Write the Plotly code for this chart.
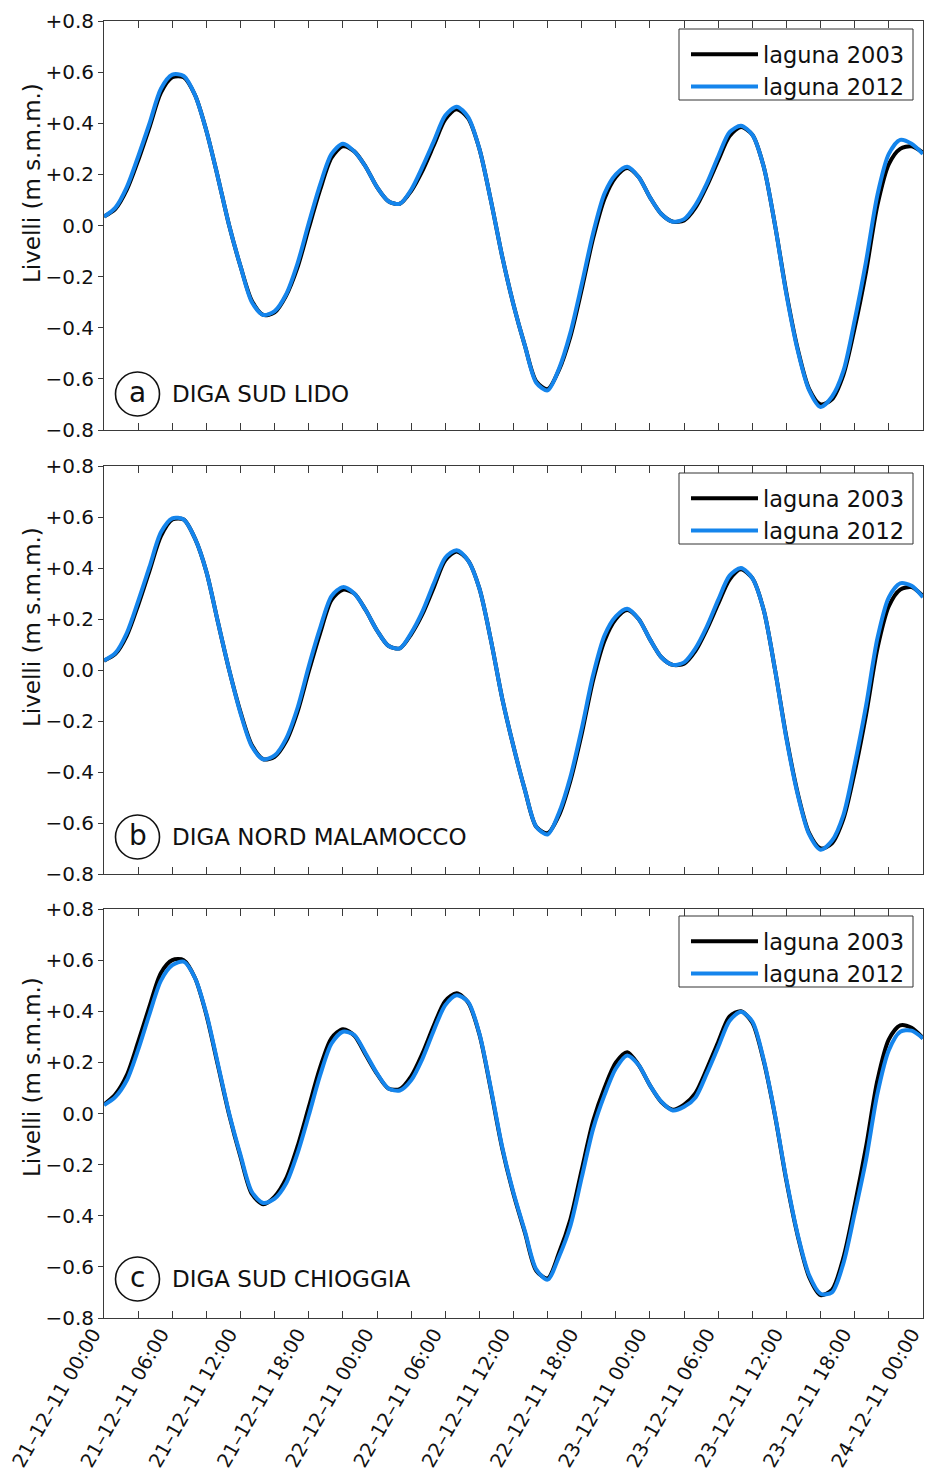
import pandas as pd
import plotly.graph_objects as go

# ---------------- data (hourly, 21-12-2011 00:00 -> 24-12-2011 00:00) ----------------
start_time = "2011-12-21 00:00"
hours = list(range(73))

lido_2003 = [0.035, 0.065, 0.14, 0.255, 0.385, 0.52, 0.58, 0.58, 0.51, 0.37, 0.19, 0.00,
             -0.16, -0.295, -0.35, -0.34, -0.275, -0.165, -0.01, 0.14, 0.265, 0.31, 0.29, 0.23,
             0.15, 0.095, 0.085, 0.135, 0.215, 0.315, 0.415, 0.455, 0.42, 0.30, 0.10, -0.12,
             -0.31, -0.47, -0.61, -0.64, -0.565, -0.435, -0.25, -0.05, 0.105, 0.19, 0.225, 0.19,
             0.11, 0.045, 0.015, 0.02, 0.07, 0.155, 0.255, 0.35, 0.385, 0.355, 0.23, 0.0,
             -0.265, -0.485, -0.64, -0.70, -0.68, -0.585, -0.40, -0.18, 0.08, 0.24, 0.30, 0.31,
             0.285]
lido_2012 = [0.035, 0.07, 0.15, 0.27, 0.40, 0.535, 0.59, 0.585, 0.51, 0.37, 0.19, 0.00,
             -0.16, -0.30, -0.35, -0.335, -0.27, -0.15, 0.01, 0.16, 0.28, 0.32, 0.29, 0.23,
             0.15, 0.095, 0.085, 0.14, 0.23, 0.33, 0.43, 0.465, 0.425, 0.30, 0.10, -0.12,
             -0.31, -0.47, -0.615, -0.645, -0.56, -0.42, -0.23, -0.03, 0.125, 0.20, 0.23, 0.19,
             0.11, 0.045, 0.015, 0.025, 0.08, 0.165, 0.27, 0.365, 0.39, 0.355, 0.23, 0.0,
             -0.27, -0.49, -0.645, -0.71, -0.67, -0.57, -0.37, -0.14, 0.12, 0.28, 0.335, 0.32,
             0.28]

malamocco_2003 = [0.037, 0.063, 0.135, 0.255, 0.39, 0.525, 0.59, 0.59, 0.515, 0.385, 0.19, 0.0,
                  -0.165, -0.295, -0.35, -0.34, -0.28, -0.165, -0.005, 0.145, 0.275, 0.315, 0.30, 0.235,
                  0.155, 0.095, 0.085, 0.14, 0.22, 0.325, 0.43, 0.465, 0.43, 0.32, 0.12, -0.11,
                  -0.30, -0.47, -0.615, -0.64, -0.57, -0.435, -0.25, -0.04, 0.115, 0.20, 0.235, 0.20,
                  0.12, 0.05, 0.02, 0.025, 0.075, 0.16, 0.26, 0.355, 0.395, 0.36, 0.235, 0.0,
                  -0.265, -0.485, -0.64, -0.70, -0.68, -0.585, -0.40, -0.175, 0.085, 0.25, 0.315, 0.325,
                  0.29]
malamocco_2012 = [0.037, 0.067, 0.145, 0.27, 0.405, 0.54, 0.595, 0.59, 0.515, 0.385, 0.19, 0.0,
                  -0.17, -0.30, -0.35, -0.335, -0.27, -0.15, 0.015, 0.165, 0.29, 0.325, 0.30, 0.235,
                  0.155, 0.095, 0.085, 0.145, 0.23, 0.34, 0.44, 0.47, 0.43, 0.32, 0.12, -0.11,
                  -0.30, -0.47, -0.615, -0.645, -0.56, -0.42, -0.23, -0.02, 0.135, 0.21, 0.24, 0.20,
                  0.12, 0.05, 0.02, 0.03, 0.085, 0.17, 0.275, 0.37, 0.40, 0.36, 0.235, 0.0,
                  -0.27, -0.49, -0.645, -0.705, -0.67, -0.57, -0.37, -0.14, 0.125, 0.285, 0.34, 0.33,
                  0.285]

chioggia_2003 = [0.035, 0.075, 0.15, 0.28, 0.42, 0.55, 0.60, 0.60, 0.53, 0.385, 0.19, -0.005,
                 -0.17, -0.315, -0.355, -0.325, -0.255, -0.13, 0.025, 0.18, 0.295, 0.33, 0.305, 0.23,
                 0.155, 0.098, 0.095, 0.145, 0.235, 0.345, 0.44, 0.47, 0.435, 0.31, 0.095, -0.135,
                 -0.315, -0.465, -0.615, -0.645, -0.545, -0.415, -0.22, -0.03, 0.10, 0.20, 0.24, 0.19,
                 0.11, 0.045, 0.015, 0.035, 0.08, 0.175, 0.28, 0.38, 0.40, 0.355, 0.205, -0.01,
                 -0.265, -0.48, -0.64, -0.71, -0.69, -0.565, -0.36, -0.13, 0.13, 0.29, 0.345, 0.335,
                 0.295]
chioggia_2012 = [0.033, 0.065, 0.13, 0.25, 0.39, 0.52, 0.58, 0.594, 0.53, 0.39, 0.196, 0.0,
                 -0.163, -0.307, -0.35, -0.333, -0.274, -0.157, -0.007, 0.15, 0.274, 0.32, 0.307, 0.235,
                 0.157, 0.098, 0.09, 0.13, 0.215, 0.326, 0.424, 0.463, 0.437, 0.313, 0.10, -0.13,
                 -0.31, -0.46, -0.61, -0.65, -0.56, -0.44, -0.25, -0.06, 0.072, 0.176, 0.227, 0.19,
                 0.11, 0.046, 0.012, 0.026, 0.063, 0.157, 0.26, 0.363, 0.398, 0.36, 0.21, -0.007,
                 -0.26, -0.476, -0.633, -0.705, -0.70, -0.587, -0.39, -0.18, 0.078, 0.248, 0.32, 0.324,
                 0.294]

series_names = ["laguna 2003", "laguna 2012"]
panel_letters = ["a", "b", "c"]
panel_titles = ["DIGA SUD LIDO", "DIGA NORD MALAMOCCO", "DIGA SUD CHIOGGIA"]

y_tickvals = [0.8, 0.6, 0.4, 0.2, 0.0, -0.2, -0.4, -0.6, -0.8]
y_ticktext = ["+0.8", "+0.6", "+0.4", "+0.2", "0.0", "\u22120.2", "\u22120.4", "\u22120.6", "\u22120.8"]

x_tick_hours = list(range(0, 73, 3))
x_ticktext = ["21\u201312\u201311 00:00", "", "21\u201312\u201311 06:00", "", "21\u201312\u201311 12:00", "",
              "21\u201312\u201311 18:00", "", "22\u201312\u201311 00:00", "", "22\u201312\u201311 06:00", "",
              "22\u201312\u201311 12:00", "", "22\u201312\u201311 18:00", "", "23\u201312\u201311 00:00", "",
              "23\u201312\u201311 06:00", "", "23\u201312\u201311 12:00", "", "23\u201312\u201311 18:00", "",
              "24\u201312\u201311 00:00"]

# ---------------- figure ----------------
t0 = pd.Timestamp(start_time)
times = [t0 + pd.Timedelta(hours=h) for h in hours]
tick_times = [t0 + pd.Timedelta(hours=h) for h in x_tick_hours]
x_range = [times[0] - pd.Timedelta(seconds=20), times[-1] + pd.Timedelta(seconds=20)]

FONT = "DejaVu Sans"
BLACK = "#000000"
BLUE = "#1585EC"
AXC = "#3a3a3a"
TXT = "#111111"

W, H = 925, 1477
ML, MR, MT, MB = 104, 2, 21, 159
PH = H - MT - MB
PW = W - ML - MR

def py(px):  # pixel y -> paper y
    return (H - MB - px) / PH

def pxx(px):  # pixel x -> paper x
    return (px - ML) / PW

panels = [
    (lido_2003, lido_2012, (430, 21)),
    (malamocco_2003, malamocco_2012, (874, 466)),
    (chioggia_2003, chioggia_2012, (1318, 909)),
]

fig = go.Figure()
layout = dict(
    template="none",
    width=W, height=H,
    margin=dict(l=ML, r=MR, t=MT, b=MB, autoexpand=False),
    paper_bgcolor="white", plot_bgcolor="white",
    font=dict(family=FONT, size=20, color=TXT),
    showlegend=True,
)

legend_tops = [29, 473, 916]
circle_centers = [394, 837, 1279]
title_centers = [183, 627, 1077]

annotations = []
shapes = []

for i, (s03, s12, (bot, top)) in enumerate(panels):
    n = "" if i == 0 else str(i + 1)
    leg = "legend" if i == 0 else "legend" + str(i + 1)
    fig.add_trace(go.Scatter(x=times, y=s03, mode="lines", name=series_names[0],
                             line=dict(color=BLACK, width=4, shape="spline", smoothing=0.8),
                             xaxis="x" + n, yaxis="y" + n, legend=leg))
    fig.add_trace(go.Scatter(x=times, y=s12, mode="lines", name=series_names[1],
                             line=dict(color=BLUE, width=4, shape="spline", smoothing=0.8),
                             xaxis="x" + n, yaxis="y" + n, legend=leg))
    dom = [py(bot), py(top)]
    layout["xaxis" + n] = dict(
        domain=[0, 1], anchor="y" + n, type="date", automargin=False,
        range=x_range,
        tickmode="array", tickvals=tick_times,
        ticktext=x_ticktext if i == 2 else [""] * len(tick_times),
        showticklabels=(i == 2), tickangle=-60,
        ticklabeloverflow="allow", ticklabelshift=-11, ticklabelstandoff=-4,
        tickfont=dict(family=FONT, size=19.5, color=TXT),
        ticks="inside", ticklen=7, tickwidth=1, tickcolor=AXC,
        showline=True, linecolor=AXC, linewidth=1, mirror="ticks",
        showgrid=False, zeroline=False,
    )
    layout["yaxis" + n] = dict(
        domain=dom, anchor="x" + n, range=[-0.8, 0.8], automargin=False,
        tickmode="array", tickvals=y_tickvals, ticktext=y_ticktext,
        tickfont=dict(family=FONT, size=20, color=TXT),
        ticks="outside", ticklen=5, tickwidth=1, tickcolor=AXC,
        showline=True, linecolor=AXC, linewidth=1, mirror=True,
        showgrid=False, zeroline=False,
    )
    # overlay axis giving the inward ticks on both sides
    k = str(i + 4)
    layout["yaxis" + k] = dict(
        overlaying="y" + n, anchor="x" + n, range=[-0.8, 0.8], side="left", automargin=False,
        tickmode="array", tickvals=y_tickvals, showticklabels=False,
        ticks="inside", ticklen=7, tickwidth=1, tickcolor=AXC,
        showline=True, linecolor=AXC, linewidth=1, mirror="ticks",
        showgrid=False, zeroline=False,
    )
    layout[leg] = dict(
        x=pxx(686), xanchor="left", y=py(legend_tops[i] + 4), yanchor="top",
        xref="paper", yref="paper",
        bgcolor="rgba(0,0,0,0)", borderwidth=0,
        font=dict(family=FONT, size=22.5, color=TXT),
        itemwidth=67, tracegroupgap=0,
    )
    # legend frame
    shapes.append(dict(type="rect", xref="paper", yref="paper",
                       x0=pxx(679), x1=pxx(913), y0=py(legend_tops[i] + 71), y1=py(legend_tops[i]),
                       line=dict(color="#333333", width=1), fillcolor="white", layer="above"))
    # y-axis title
    annotations.append(dict(
        text="Livelli (m s.m.m.)", textangle=-90, x=pxx(32), y=py(title_centers[i]),
        xref="paper", yref="paper", xanchor="center", yanchor="middle", showarrow=False,
        font=dict(family=FONT, size=23, color=TXT),
    ))
    # circled letter + station name
    cx, cy = pxx(137.5), py(circle_centers[i])
    shapes.append(dict(type="circle", xref="paper", yref="paper",
                       xsizemode="pixel", ysizemode="pixel", xanchor=cx, yanchor=cy,
                       x0=-22, x1=22, y0=-22, y1=22,
                       line=dict(color=TXT, width=1.6), fillcolor="rgba(0,0,0,0)"))
    annotations.append(dict(
        text=panel_letters[i], x=cx, y=cy, xref="paper", yref="paper",
        xanchor="center", yanchor="middle", showarrow=False, yshift=2,
        font=dict(family=FONT, size=28, color=TXT),
    ))
    annotations.append(dict(
        text=panel_titles[i], x=pxx(170), y=cy, xref="paper", yref="paper",
        xanchor="left", yanchor="middle", showarrow=False,
        font=dict(family=FONT, size=23, color=TXT),
    ))

layout["annotations"] = annotations
layout["shapes"] = shapes
fig.update_layout(**layout)

fig.write_html(
    "out.html",
    config={"displayModeBar": False},
    post_script="document.body.style.margin='0';document.body.style.padding='0';"
                "document.body.style.overflow='hidden';",
)
